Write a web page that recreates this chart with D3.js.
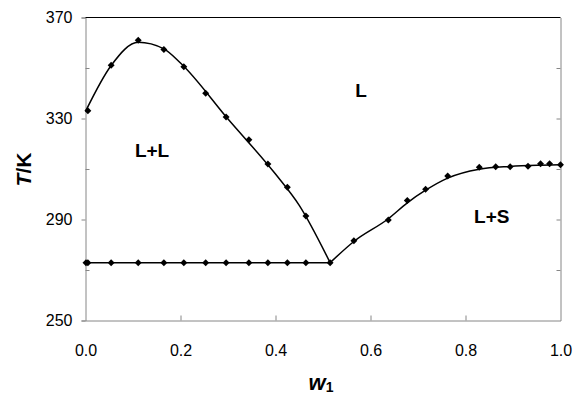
<!DOCTYPE html>
<html>
<head>
<meta charset="utf-8">
<script src="https://cdn.jsdelivr.net/npm/d3@7"></script>
<style>
    body { margin: 0; background: #fff; }
    svg { display: block; font-family: "Liberation Sans", Arial, sans-serif; }
    .axis .domain { stroke: #868686; }
    .axis .tick line { stroke: #868686; }
    .axis text { fill: #000; font-size: 16px; }
</style>
</head>
<body>
<svg id="chart" width="575" height="394"></svg>
<script>
// liquid-liquid branch (markers)
const llW = [0.005, 0.054, 0.111, 0.165, 0.207, 0.253, 0.296, 0.344, 0.384, 0.425, 0.464];
const llT = [333.1, 351.1, 361.0, 357.3, 350.5, 340.0, 330.6, 321.6, 312.0, 302.8, 291.4];

// eutectic / horizontal line markers
const eutW = [0.001, 0.005, 0.054, 0.111, 0.165, 0.207, 0.253, 0.296, 0.344, 0.384, 0.425, 0.464, 0.515];
const eutT = 272.9;

// solid-liquid branch (markers)
const slW = [0.565, 0.6375, 0.6775, 0.716, 0.7625, 0.829, 0.8636, 0.894, 0.9316, 0.958, 0.977, 1.0];
const slT = [281.6, 289.8, 297.5, 302.0, 307.2, 310.7, 310.9, 310.9, 311.1, 312.1, 312.1, 311.7];

// fitted lines
const llLineW = [0.0, 0.054, 0.111, 0.165, 0.2, 0.3, 0.4, 0.45, 0.515];
const llLineT = [332.8, 351.0, 360.2, 357.6, 352.0, 329.8, 308.0, 295.6, 272.9];
const slLineW = [0.515, 0.565, 0.6375, 0.6775, 0.716, 0.7625, 0.829, 0.894, 0.958, 1.0];
const slLineT = [272.9, 281.3, 290.3, 296.6, 301.6, 306.4, 309.9, 311.0, 311.5, 311.7];

const yLabelTicks = [250, 290, 330, 370];
const yMinorTicks = [270, 310, 350];
const xLabelTicks = [0, 0.2, 0.4, 0.6, 0.8, 1.0];

const margin = { left: 85.5, top: 17.5, right: 14.5, bottom: 73.5 };
const width = 575, height = 394;
const svg = d3.select('#chart');

const x = d3.scaleLinear().domain([0, 1]).range([margin.left, width - margin.right]);
const y = d3.scaleLinear().domain([250, 370]).range([height - margin.bottom, margin.top]);

// left axis: labelled ticks outside, minor ones inside
svg.append('g')
    .attr('class', 'axis')
    .attr('transform', `translate(${margin.left},0)`)
    .call(d3.axisLeft(y).tickValues(yLabelTicks).tickSize(4).tickPadding(9).tickFormat(d3.format('d')));
svg.append('g')
    .attr('class', 'axis')
    .attr('transform', `translate(${margin.left},0)`)
    .call(d3.axisRight(y).tickValues(yMinorTicks).tickSize(4).tickFormat(''))
    .select('.domain').remove();

// right axis
svg.append('g')
    .attr('class', 'axis')
    .attr('transform', `translate(${width - margin.right},0)`)
    .call(d3.axisLeft(y).tickValues([270, 290, 310, 330, 350]).tickSize(4).tickSizeOuter(0).tickFormat(''));

// bottom axis
svg.append('g')
    .attr('class', 'axis')
    .attr('transform', `translate(0,${height - margin.bottom})`)
    .call(d3.axisTop(x).tickValues([0.2, 0.4, 0.6, 0.8]).tickSize(5).tickSizeOuter(0).tickFormat(''));
svg.append('g')
    .attr('class', 'axis')
    .attr('transform', `translate(0,${height - margin.bottom})`)
    .call(d3.axisBottom(x).tickValues(xLabelTicks).tickSize(0).tickPadding(24).tickFormat(d3.format('.1f')))
    .select('.domain').remove();

// top border
svg.append('line')
    .attr('x1', margin.left).attr('x2', width - margin.right)
    .attr('y1', margin.top).attr('y2', margin.top)
    .attr('stroke', '#000').attr('stroke-width', 1);

const line = d3.line()
    .curve(d3.curveMonotoneX)
    .x(d => x(d[0]))
    .y(d => y(d[1]));

svg.append('path')
    .datum(llLineW.map((w, i) => [w, llLineT[i]]))
    .attr('fill', 'none').attr('stroke', '#000').attr('stroke-width', 1.5)
    .attr('d', line);

svg.append('path')
    .datum(slLineW.map((w, i) => [w, slLineT[i]]))
    .attr('fill', 'none').attr('stroke', '#000').attr('stroke-width', 1.5)
    .attr('d', line);

svg.append('line')
    .attr('x1', x(0)).attr('x2', x(d3.max(eutW)))
    .attr('y1', y(eutT)).attr('y2', y(eutT))
    .attr('stroke', '#000').attr('stroke-width', 1.5);

// markers
const points = [
    ...llW.map((w, i) => [w, llT[i]]),
    ...eutW.map(w => [w, eutT]),
    ...slW.map((w, i) => [w, slT[i]])
];
const diamond = d3.symbol().type(d3.symbolSquare).size(24);
svg.append('g')
    .selectAll('path')
    .data(points)
    .join('path')
    .attr('d', diamond)
    .attr('fill', '#000')
    .attr('transform', d => `translate(${x(d[0])},${y(d[1])}) rotate(45)`);

// region labels
const regions = [
    { text: 'L+L', w: 0.104, t: 314.8 },
    { text: 'L', w: 0.568, t: 338.5 },
    { text: 'L+S', w: 0.818, t: 288.5 }
];
svg.append('g')
    .selectAll('text')
    .data(regions)
    .join('text')
    .attr('x', d => x(d.w))
    .attr('y', d => y(d.t))
    .style('font-size', '19px')
    .style('font-weight', 'bold')
    .text(d => d.text);

// axis titles
const yTitle = svg.append('text')
    .attr('transform', `translate(31,${(margin.top + height - margin.bottom) / 2 + 0.5}) rotate(-90)`)
    .attr('text-anchor', 'middle')
    .style('font-size', '21px')
    .style('font-weight', 'bold');
yTitle.append('tspan').style('font-style', 'italic').text('T');
yTitle.append('tspan').text('/K');

const xTitle = svg.append('text')
    .attr('x', 321)
    .attr('y', 390)
    .attr('text-anchor', 'middle')
    .style('font-weight', 'bold');
xTitle.append('tspan').style('font-style', 'italic').style('font-size', '22px').text('w');
xTitle.append('tspan').attr('dy', 2).style('font-size', '14px').text('1');
</script>
</body>
</html>
